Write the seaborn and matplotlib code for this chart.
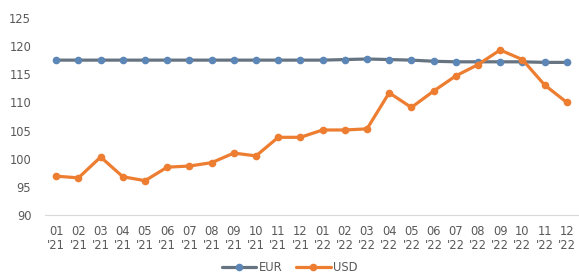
import pandas as pd
import numpy as np
import matplotlib
matplotlib.use("Agg")
import matplotlib.pyplot as plt
import seaborn as sns
from matplotlib.lines import Line2D

months = ["01", "02", "03", "04", "05", "06", "07", "08", "09", "10", "11", "12"] * 2
years = ["'21"] * 12 + ["'22"] * 12
labels = [m + "\n" + y for m, y in zip(months, years)]

eur = [117.5, 117.5, 117.5, 117.5, 117.5, 117.5, 117.5, 117.5, 117.5, 117.5, 117.5, 117.5,
       117.5, 117.6, 117.7, 117.6, 117.5, 117.3, 117.2, 117.2, 117.2, 117.2, 117.1, 117.1]
usd = [96.9, 96.6, 100.3, 96.8, 96.1, 98.5, 98.7, 99.3, 101.0, 100.5, 103.8, 103.8,
       105.1, 105.1, 105.3, 111.7, 109.1, 112.0, 114.7, 116.7, 119.3, 117.6, 113.1, 110.0]

df = pd.DataFrame({
    "idx": list(range(24)) * 2,
    "value": eur + usd,
    "series": ["EUR"] * 24 + ["USD"] * 24,
})

sns.set_style("white")
plt.rcParams["font.family"] = ["DejaVu Sans"]

fig = plt.figure(figsize=(5.79, 2.75), dpi=100)
ax = fig.add_axes([0.078, 0.218, 0.92, 0.717])

palette = {"EUR": "#5B86B5", "USD": "#ED7D31"}
sns.lineplot(data=df, x="idx", y="value", hue="series", palette=palette,
             marker="o", markersize=5.5, markeredgewidth=0, linewidth=2.3, ax=ax, legend=False)
# EUR line is a grey-blue stroke with blue markers
ax.lines[0].set_color("#667380")
ax.lines[0].set_markerfacecolor("#5B86B5")

ax.set_xlim(-0.5, 23.5)
ax.set_ylim(90, 125)
ax.set_yticks(np.arange(90, 126, 5))
ax.set_xticks(range(24))
ax.set_xticklabels(labels, linespacing=1.15)
ax.tick_params(axis="both", labelsize=8.3, colors="#595959", length=0)
ax.tick_params(axis="x", pad=7)
ax.tick_params(axis="y", pad=10)
ax.set_xlabel("")
ax.set_ylabel("")
for s in ["top", "right", "left"]:
    ax.spines[s].set_visible(False)
ax.spines["bottom"].set_color("#D9D9D9")

handles = [
    Line2D([], [], color="#667380", lw=2.3, marker="o", markerfacecolor="#5B86B5", markeredgewidth=0, markersize=5.5),
    Line2D([], [], color="#ED7D31", lw=2.3, marker="o", markeredgewidth=0, markersize=5.5),
]
fig.legend(handles, ["EUR", "USD"], loc="lower center", bbox_to_anchor=(0.5, -0.035), ncol=2,
           frameon=False, fontsize=8.3, labelcolor="#595959", handlelength=3, columnspacing=1.2,
           handletextpad=0.2)

fig.savefig("out.png", dpi=100)
